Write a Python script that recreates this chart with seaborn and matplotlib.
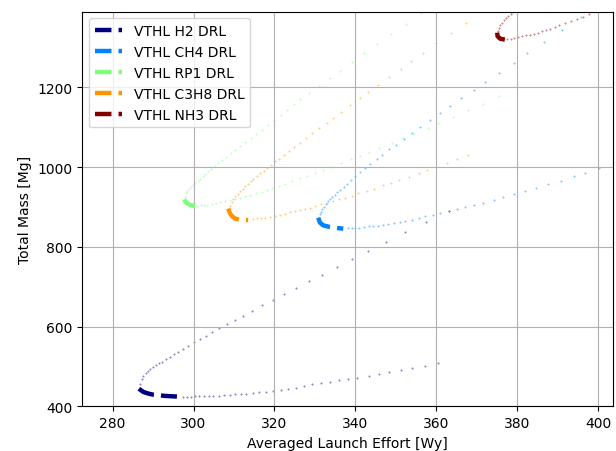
import numpy as np
import matplotlib
matplotlib.use('Agg')
import matplotlib.pyplot as plt
import seaborn as sns

# Series names and colours (jet colormap, 5 samples)
names = ['VTHL H2 DRL', 'VTHL CH4 DRL', 'VTHL RP1 DRL', 'VTHL C3H8 DRL', 'VTHL NH3 DRL']
colors = plt.cm.jet(np.linspace(0, 1, 5))

# --- H2 ---
h2_upper_x = [286.8, 287.2, 287.6, 288.2, 288.7, 289.3, 289.9, 290.7, 291.4, 292.3, 293.2, 294.2, 295.2,
              296.2, 297.5, 298.7, 300.0, 301.5, 303.0, 304.6, 306.3, 308.2, 310.2, 312.3, 314.5, 317.0,
              319.6, 322.3, 325.2, 328.5, 331.7, 335.4, 339.1, 343.2, 347.5, 352.3, 357.5, 363.0]
h2_upper_y = [455, 468, 476, 483, 488, 493, 498, 504, 508, 512, 518, 524, 530, 535, 543, 551, 560, 569,
              576, 586, 596, 606, 616, 627, 640, 653, 666, 682, 697, 713, 730, 749, 769, 789, 811, 836,
              863, 891]
h2_lower_x = [297.5, 298.3, 299.3, 300.4, 301.4, 302.6, 303.8, 304.9, 306.2, 307.6, 308.9, 310.3, 311.7,
              313.0, 314.7, 316.2, 317.9, 319.6, 321.5, 323.4, 325.3, 327.4, 329.3, 331.4, 333.6, 336.0,
              338.2, 340.4, 343.3, 345.9, 348.4, 351.2, 354.0, 357.2, 360.4]
h2_lower_y = [424, 424, 424, 425, 425, 425, 426, 426, 427, 428, 429, 430, 431, 432, 434, 435, 437, 439,
              441, 444, 447, 451, 455, 458, 461, 465, 468, 472, 477, 481, 485, 490, 495, 501, 508]
h2_front_x = [286.5, 287.6, 288.8, 290.1, 293.0, 295.9]
h2_front_y = [444, 436, 432, 429, 426, 424.5]

# --- CH4 ---
ch4_upper_x = [331.2, 331.5, 331.8, 332.2, 332.7, 333.2, 333.7, 334.3, 334.9, 335.5, 336.2, 337.1, 337.8,
               338.9, 340.0, 341.2, 342.3, 343.7, 345.3, 346.6, 348.2, 349.9, 351.9, 354.0, 355.9, 358.3,
               360.9, 363.3, 366.1, 369.2, 372.0, 375.4, 379.1, 382.3, 386.5, 391.0, 395.6]
ch4_upper_y = [882, 888, 895, 901, 907, 914, 919, 925, 931, 937, 943, 950, 957, 967, 978, 988, 997, 1008,
               1019, 1030, 1044, 1056, 1070, 1085, 1100, 1117, 1136, 1152, 1172, 1192, 1213, 1237, 1261,
               1286, 1313, 1343, 1376]
ch4_lower_x = [338.2, 339.1, 340.0, 340.9, 342.2, 343.3, 344.3, 345.6, 346.8, 348.1, 349.5, 350.9, 352.3,
               354.0, 355.6, 357.2, 359.1, 361.0, 363.0, 365.0, 367.0, 369.2, 371.4, 374.1, 376.4, 379.2,
               381.8, 384.6, 387.5, 390.7, 394.0, 396.7, 400.1]
ch4_lower_y = [846, 846, 847, 848, 849, 851, 851, 853, 855, 856, 860, 862, 865, 868, 871, 876, 880, 885,
               891, 895, 900, 905, 911, 918, 924, 933, 940, 947, 957, 966, 977, 986, 997]
ch4_front_x = [330.8, 331.2, 332.0, 333.7, 335.5, 337.0]
ch4_front_y = [873, 861, 854, 849.5, 847, 845.5]

# --- RP1 ---
rp1_upper_x = [297.9, 298.1, 298.5, 298.9, 299.4, 299.9, 300.4, 301.0, 301.6, 302.3, 302.8, 303.5, 304.3,
               305.2, 306.1, 307.1, 308.1, 309.2, 310.3, 311.5, 312.8, 314.1, 315.5, 316.9, 318.3, 319.9,
               321.5, 323.1, 324.7, 326.3, 328.6, 331.0, 333.6, 336.3, 339.1, 342.2, 345.4, 348.8, 352.5,
               356.2]
rp1_upper_y = [926, 934, 940, 944, 950, 955, 960, 966, 971, 977, 983, 989, 995, 1002, 1009, 1017, 1025,
               1034, 1043, 1052, 1062, 1072, 1083, 1094, 1106, 1118, 1130, 1144, 1157, 1170, 1186, 1203,
               1223, 1242, 1263, 1285, 1309, 1333, 1359, 1387]
rp1_lower_x = [300.9, 301.8, 302.6, 303.4, 304.5, 305.5, 306.5, 307.8, 309.0, 310.2, 311.5, 312.7, 314.0,
               315.4, 316.8, 318.1, 319.5, 321.2, 322.6, 324.4, 326.3, 328.1, 329.9, 332.0, 334.2, 336.5,
               338.8, 341.1, 343.4, 345.8, 349.1, 351.8, 354.4, 357.9, 360.5, 364.1, 367.8, 371.6, 375.5]
rp1_lower_y = [903, 904, 905, 906, 908, 910, 912, 914, 917, 920, 923, 927, 931, 934, 938, 942, 947, 953,
               958, 965, 972, 978, 984, 992, 1001, 1009, 1019, 1028, 1038, 1048, 1061, 1072, 1084, 1099,
               1110, 1126, 1143, 1159, 1177]
rp1_front_x = [297.7, 298.0, 298.5, 299.2, 300.4]
rp1_front_y = [919, 913, 908, 905, 902.5]

# --- C3H8 ---
c3h8_upper_x = [309.0, 309.4, 309.8, 310.3, 310.9, 311.5, 312.1, 312.7, 313.4, 314.1, 314.8, 315.6, 316.4,
                317.3, 318.2, 319.2, 320.2, 321.2, 322.3, 323.6, 324.9, 326.3, 327.7, 329.3, 331.1, 332.9,
                334.5, 336.5, 338.7, 341.1, 343.1, 345.6, 348.3, 351.2, 353.7, 356.7, 360.0, 363.6, 367.4]
c3h8_upper_y = [903, 913, 920, 927, 933, 939, 945, 952, 958, 964, 971, 977, 984, 991, 998, 1006, 1014,
                1021, 1029, 1039, 1049, 1061, 1073, 1085, 1097, 1110, 1124, 1139, 1155, 1172, 1188, 1205,
                1225, 1245, 1265, 1287, 1310, 1335, 1362]
c3h8_lower_x = [314.6, 315.6, 316.6, 317.7, 318.9, 320.1, 321.4, 322.6, 323.8, 325.1, 326.3, 327.5, 328.8,
                330.0, 331.4, 332.9, 334.4, 335.9, 337.4, 339.1, 340.7, 342.8, 344.5, 346.7, 348.7, 350.7,
                353.1, 355.7, 357.7, 360.0, 362.5, 365.1, 367.8]
c3h8_lower_y = [870, 871, 871, 873, 875, 877, 880, 883, 886, 889, 892, 895, 898, 902, 907, 910, 916, 919,
                923, 928, 934, 940, 946, 954, 961, 967, 975, 984, 992, 1000, 1009, 1019, 1029]
c3h8_front_x = [308.6, 308.9, 309.4, 310.2, 311.5, 313.5]
c3h8_front_y = [896, 886, 878, 871, 867.5, 867]

# --- NH3 ---
nh3_upper_x = [375.3, 375.4, 375.7, 376.1, 376.6, 377.2, 377.7, 378.3, 378.8, 379.4]
nh3_upper_y = [1341, 1348, 1355, 1362, 1368, 1374, 1379, 1384, 1389, 1394]
nh3_lower_x = [377.5, 378.3, 379.2, 380.2, 381.2, 382.1, 383.1, 384.1, 385.0, 386.0, 387.0, 388.0, 389.2,
               390.3, 391.8, 393.2, 394.6, 396.2, 397.7, 399.4]
nh3_lower_y = [1320.5, 1322, 1323.5, 1325.5, 1327.5, 1330, 1332, 1334.5, 1337, 1340, 1343.5, 1347, 1351,
               1355, 1360, 1365.5, 1371, 1377.5, 1384, 1390.5]
nh3_front_x = [375.0, 375.1, 375.7, 376.9]
nh3_front_y = [1337, 1328, 1322, 1319.5]

series = [
    (h2_upper_x + h2_lower_x, h2_upper_y + h2_lower_y, h2_front_x, h2_front_y),
    (ch4_upper_x + ch4_lower_x, ch4_upper_y + ch4_lower_y, ch4_front_x, ch4_front_y),
    (rp1_upper_x + rp1_lower_x, rp1_upper_y + rp1_lower_y, rp1_front_x, rp1_front_y),
    (c3h8_upper_x + c3h8_lower_x, c3h8_upper_y + c3h8_lower_y, c3h8_front_x, c3h8_front_y),
    (nh3_upper_x + nh3_lower_x, nh3_upper_y + nh3_lower_y, nh3_front_x, nh3_front_y),
]

fig = plt.figure(figsize=(6.16, 4.52), dpi=100)
ax = fig.add_axes([0.1334, 0.0989, 0.8617, 0.8734])

handles = []
for (sx, sy, fx, fy), name, c in zip(series, names, colors):
    # all design points as faint crosses
    sns.scatterplot(x=sx, y=sy, marker='+', s=4, color=c, alpha=0.45, linewidth=0.8, ax=ax, legend=False)
    # the front as a thick dashed line
    sns.lineplot(x=fx, y=fy, sort=False, estimator=None, color=c, lw=3.2, linestyle='--', ax=ax)
    handles.append(ax.get_lines()[-1])
    handles[-1].set_label(name)

ax.set_xlim(272.5, 403.6)
ax.set_ylim(400, 1390)
ax.grid(True)
ax.set_xlabel('Averaged Launch Effort [Wy]')
ax.set_ylabel('Total Mass [Mg]')
ax.legend(handles=handles, loc='upper left')

plt.savefig('out.png', dpi=100)
plt.close()
